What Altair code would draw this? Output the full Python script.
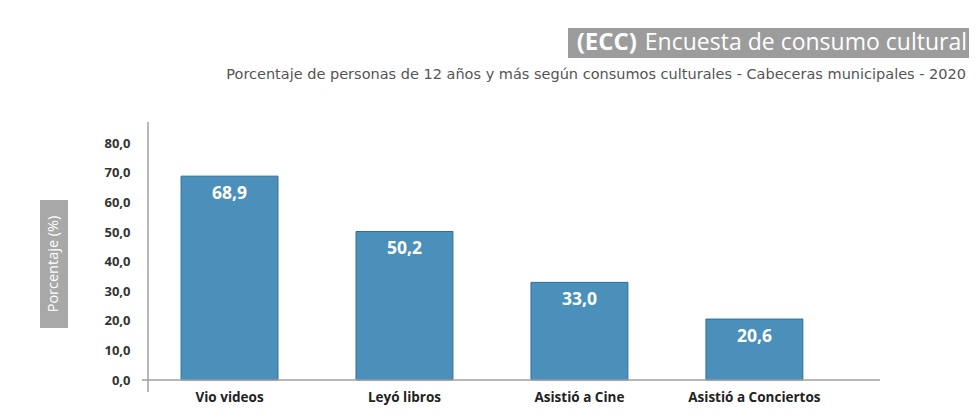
import altair as alt
import pandas as pd

categories = ["Vio videos", "Leyó libros", "Asistió a Cine", "Asistió a Conciertos"]
values = [68.9, 50.2, 33.0, 20.6]
y_ticks = [0, 10, 20, 30, 40, 50, 60, 70, 80]

title_bold = "(ECC)"
title_rest = "Encuesta de consumo cultural"
subtitle = "Porcentaje de personas de 12 años y más según consumos culturales - Cabeceras municipales - 2020"
y_title = "Porcentaje (%)"

W, H = 732, 258

df = pd.DataFrame({"cat": categories, "val": values})
one = pd.DataFrame({"k": [0]})

x = alt.X("cat:N", sort=categories,
          scale=alt.Scale(paddingInner=0.446, paddingOuter=0.315, align=0.3),
          axis=alt.Axis(title=None, labelAngle=0, domain=False, ticks=False,
                        labelFont="Open Sans", labelFontWeight="bold", labelFontSize=13.5,
                        labelColor="#222222", labelPadding=10))
y = alt.Y("val:Q", scale=alt.Scale(domain=[0, 87.2], nice=False),
          axis=alt.Axis(title=None, values=y_ticks, grid=False, domain=False, ticks=False,
                        labelOverlap=False,
                        labelExpr="replace(format(datum.value, '.1f'), '.', ',')",
                        labelFont="Open Sans", labelFontWeight="bold", labelFontSize=13,
                        labelColor="#333333", labelPadding=18))

bars = alt.Chart(df).mark_bar(color="#4a90bb", stroke="#2f6f98", strokeWidth=1).encode(x=x, y=y)

labels = alt.Chart(df).transform_calculate(
    lab="replace(format(datum.val, '.1f'), '.', ',')"
).mark_text(color="white", font="Open Sans", fontWeight="bold", fontSize=17.5,
            baseline="top", dy=9).encode(x=x, y=y, text="lab:N")

vline = alt.Chart(one).mark_rule(color="#a0a0a0", strokeWidth=1.5).encode(
    x=alt.value(0), y=alt.value(0), y2=alt.value(H + 12))
hline = alt.Chart(one).mark_rule(color="#a0a0a0", strokeWidth=1.5).encode(
    x=alt.value(-6), x2=alt.value(W), y=alt.value(H))

title_box = alt.Chart(one).mark_rect(color="#9c9c9c").encode(
    x=alt.value(420), x2=alt.value(821), y=alt.value(-94), y2=alt.value(-64))
t1 = alt.Chart(one).mark_text(text=title_bold, color="white", font="Open Sans",
                              fontWeight="bold", fontSize=24, align="right",
                              baseline="middle").encode(x=alt.value(489), y=alt.value(-79))
t2 = alt.Chart(one).mark_text(text=title_rest, color="white", font="Open Sans",
                              fontSize=23, align="right",
                              baseline="middle").encode(x=alt.value(819), y=alt.value(-79))
sub = alt.Chart(one).mark_text(text=subtitle, color="#555555", font="DejaVu Sans",
                               fontSize=14.5, align="right",
                               baseline="middle").encode(x=alt.value(818), y=alt.value(-47))

ybox = alt.Chart(one).mark_rect(color="#a8a8a8").encode(
    x=alt.value(-108), x2=alt.value(-80), y=alt.value(78), y2=alt.value(206))
ytxt = alt.Chart(one).mark_text(text=y_title, color="white", font="Open Sans",
                                fontSize=14.5, angle=270, align="center",
                                baseline="middle").encode(x=alt.value(-94), y=alt.value(142))

chart = alt.layer(bars, labels, vline, hline, title_box, t1, t2, sub, ybox, ytxt).properties(
    width=W, height=H,
    background="white",
    autosize=alt.AutoSizeParams(type="none"),
    padding={"left": 140, "top": 114, "right": 89, "bottom": 30},
).configure_view(strokeWidth=0, stroke=None)

chart.save("out.html", embed_options={"renderer": "svg", "actions": False})
